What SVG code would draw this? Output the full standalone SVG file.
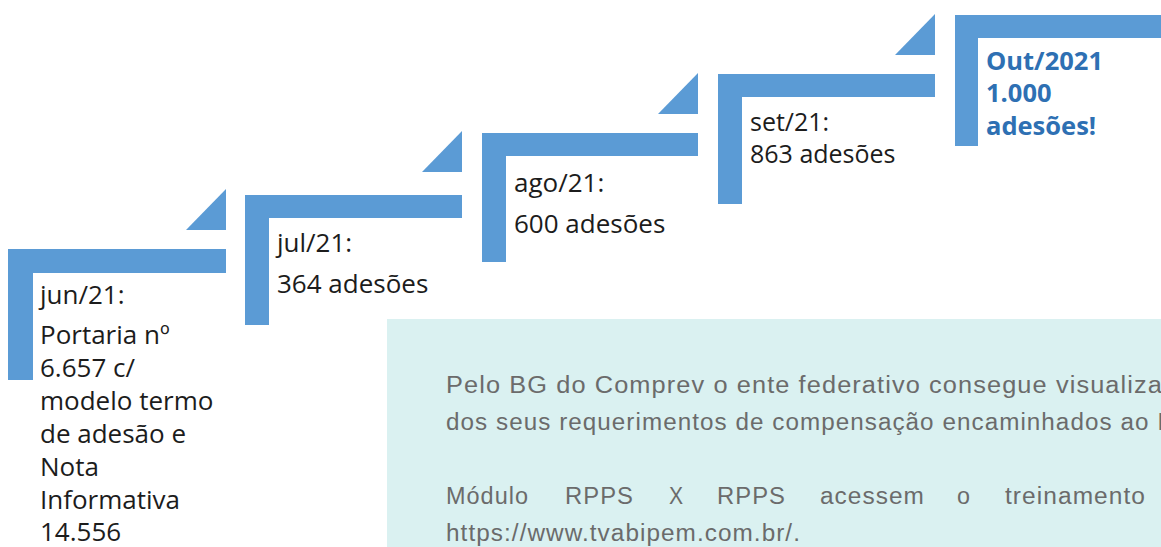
<svg xmlns="http://www.w3.org/2000/svg" width="1161" height="547" viewBox="0 0 1161 547">
<style>
.bar{fill:#5B9BD5}
.t{font-family:"Open Sans","Noto Sans","Liberation Sans",sans-serif;font-size:26px;fill:#1c1c1c}
.s{font-size:25px}
.b{font-family:"Open Sans","Noto Sans","Liberation Sans",sans-serif;font-size:25.5px;font-weight:bold;fill:#2E70B3}
.p{font-family:"Liberation Sans",Arial,sans-serif;font-size:23px;letter-spacing:1px;fill:#6b6b6b}
</style>
<rect width="1161" height="547" fill="#ffffff"/>
<g id="connectors"/>
<g id="step-jun">
<path class="bar" d="M8,249 H226 V273 H33 V380 H8 Z"/>
<polygon class="bar" points="186,230 226,189 226,230"/>
<text class="t" x="40" y="304">jun/21:</text>
<text class="t" x="40" y="344">Portaria nº</text>
<text class="t" x="40" y="377">6.657 c/</text>
<text class="t" x="40" y="410">modelo termo</text>
<text class="t" x="40" y="443">de adesão e</text>
<text class="t" x="40" y="476">Nota</text>
<text class="t" x="40" y="509">Informativa</text>
<text class="t" x="40" y="541">14.556</text>
</g>
<g id="step-jul">
<path class="bar" d="M245,195 H462 V218 H269 V325 H245 Z"/>
<polygon class="bar" points="422,172 462,131 462,172"/>
<text class="t" x="277" y="252">jul/21:</text>
<text class="t" x="277" y="293">364 adesões</text>
</g>
<g id="step-ago">
<path class="bar" d="M482,133 H698 V156 H506 V262 H482 Z"/>
<polygon class="bar" points="658,114 698,73 698,114"/>
<text class="t" x="514" y="192">ago/21:</text>
<text class="t" x="514" y="233">600 adesões</text>
</g>
<g id="step-set">
<path class="bar" d="M718,74 H935 V97 H742 V204 H718 Z"/>
<polygon class="bar" points="895,55 935,14 935,55"/>
<text class="t s" x="750" y="131">set/21:</text>
<text class="t s" x="750" y="163">863 adesões</text>
</g>
<g id="step-out">
<path class="bar" d="M955,15 H1161 V38 H978 V146 H955 Z"/>
<text class="b" x="986" y="70">Out/2021</text>
<text class="b" x="986" y="102">1.000</text>
<text class="b" x="986" y="135">adesões!</text>
</g>
<g id="info-box">
<rect x="387" y="319" width="774" height="228" fill="#DAF1F1"/>
<text class="p" x="446" y="393" textLength="717" lengthAdjust="spacingAndGlyphs">Pelo BG do Comprev o ente federativo consegue visualiza</text>
<text class="p" x="446" y="430" textLength="719" lengthAdjust="spacingAndGlyphs">dos seus requerimentos de compensação encaminhados ao I</text>
<text class="p" x="446" y="504" textLength="83" lengthAdjust="spacingAndGlyphs">Módulo</text>
<text class="p" x="565" y="504" textLength="69" lengthAdjust="spacingAndGlyphs">RPPS</text>
<text class="p" x="669" y="504" textLength="15" lengthAdjust="spacingAndGlyphs">X</text>
<text class="p" x="717" y="504" textLength="69" lengthAdjust="spacingAndGlyphs">RPPS</text>
<text class="p" x="820" y="504" textLength="105" lengthAdjust="spacingAndGlyphs">acessem</text>
<text class="p" x="957" y="504" textLength="14" lengthAdjust="spacingAndGlyphs">o</text>
<text class="p" x="1005" y="504" textLength="141" lengthAdjust="spacingAndGlyphs">treinamento</text>
<text class="p" x="446" y="541" textLength="355" lengthAdjust="spacingAndGlyphs">https://www.tvabipem.com.br/.</text>
</g>
</svg>
